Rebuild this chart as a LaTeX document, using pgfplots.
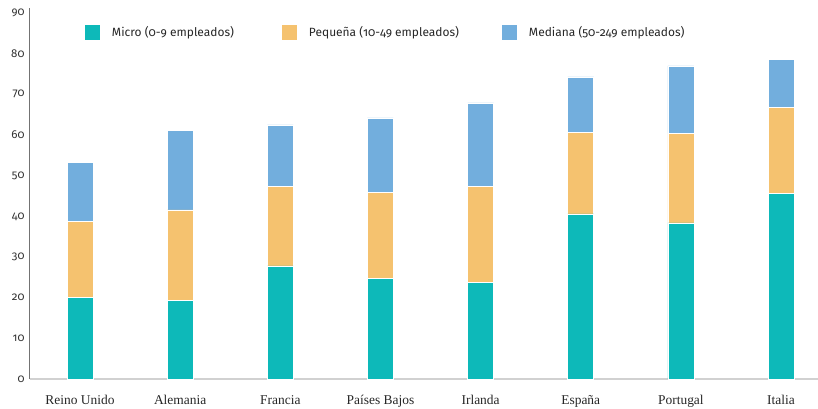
\documentclass[border=0pt]{standalone}
\usepackage{pgfplots}
\pgfplotsset{compat=1.18}
\usepackage{fontspec}
\setmainfont{Liberation Serif}
\newfontfamily\legfont{Fira Sans}[Numbers=OldStyle]
\definecolor{cteal}{RGB}{13,185,185}
\definecolor{corange}{RGB}{245,194,111}
\definecolor{cblue}{RGB}{114,174,221}
\begin{document}
\begin{tikzpicture}
\useasboundingbox (-30bp,-30bp) rectangle (788bp,379bp);
\begin{axis}[
  at={(0,0)}, anchor=south west,
  scale only axis, width=788bp, height=371.3bp,
  xmin=-0.4993, xmax=7.369, ymin=0, ymax=91.3,
  ybar stacked, bar width=26bp,
  axis x line*=bottom, axis y line*=left,
  x axis line style={draw=black!18, line width=1.8bp, -},
  y axis line style={draw=black!55, line width=1bp, -},
  ytick={0,10,...,90}, xtick={0,...,7},
  xticklabels={Reino Unido, Alemania, Francia, Países Bajos, Irlanda, España, Portugal, Italia},
  major tick length=0,
  /pgf/number format/assume math mode=true,
  yticklabel style={font=\legfont\fontsize{11.5}{13}\selectfont, text=black!80, xshift=-2bp},
  xticklabel style={font=\fontsize{13.5}{15}\selectfont, anchor=base, yshift=-25bp, text=black!85},
  legend style={at={(0.0698,0.933)}, anchor=west, draw=none, fill=none,
    inner sep=0pt, outer sep=0pt,
    font=\legfont\fontsize{12}{14}\selectfont, text=black!85,
    nodes={inner sep=0pt},
    /tikz/every odd column/.append style={column sep=12bp},
    legend cell align=left},
  legend columns=3,
  legend image code/.code={\fill[#1,draw=none] (0bp,-7.5bp) rectangle (15bp,7.5bp);},
]
\addplot+[fill=cteal, draw=white, line width=0.6bp] coordinates
  {(0,20.0) (1,19.3) (2,27.8) (3,24.7) (4,23.7) (5,40.6) (6,38.4) (7,45.7)};
\addplot+[fill=corange, draw=white, line width=0.6bp] coordinates
  {(0,18.7) (1,22.3) (2,19.5) (3,21.1) (4,23.6) (5,20.1) (6,22.0) (7,21.0)};
\addplot+[fill=cblue, draw=white, line width=0.6bp] coordinates
  {(0,14.6) (1,19.6) (2,15.2) (3,18.4) (4,20.6) (5,13.6) (6,16.6) (7,11.9)};
\legend{\makebox[170bp][l]{Micro (0-9 empleados)}, \makebox[193bp][l]{Pequeña (10-49 empleados)}, Mediana (50-249 empleados)}
\end{axis}
\end{tikzpicture}
\end{document}
